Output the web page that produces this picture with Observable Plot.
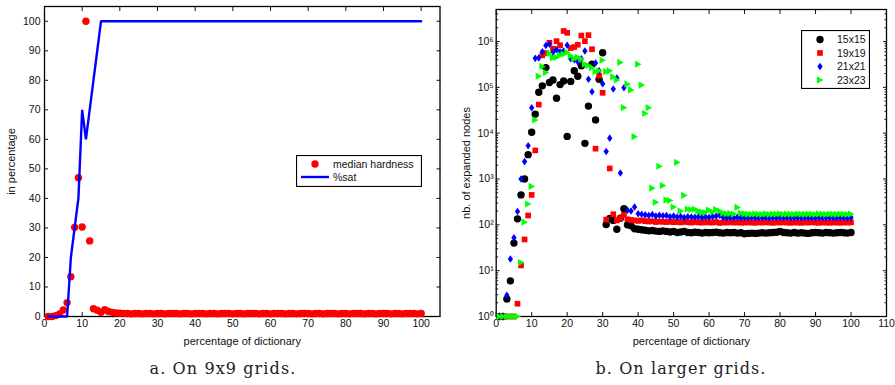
<!DOCTYPE html>
<html><head><meta charset="utf-8">
<script src="https://cdn.jsdelivr.net/npm/d3@7"></script>
<script src="https://cdn.jsdelivr.net/npm/@observablehq/plot@0.6"></script>
<style>
body{margin:0;background:#fff;}
#wrap{position:relative;width:895px;height:385px;overflow:hidden;font-family:"Liberation Sans",Arial,sans-serif;}
.panel{position:absolute;top:0;}
.cap{position:absolute;top:359px;font-family:"DejaVu Serif",serif;font-size:16px;letter-spacing:1.1px;color:#222;transform:translateX(-50%);white-space:nowrap;}
.leg{position:absolute;}
</style>
</head><body>
<div id="wrap"></div>
<script>
// ---------- data: panel a (9x9 grids) ----------
const pctA = d3.range(1, 101); // percentage of dictionary, 1..100
const hardness = [
  0, 0, 0.3, 0.9, 2.2, 4.7, 13.5, 30.2, 47, 30.3,
  100, 25.6, 2.6, 2.1, 1.4, 2.3, 1.7, 1.4, 1.2, 1.1,
  1.0, 1.0, 0.9, 1.0, 1.0, 0.9, 1.0, 1.0, 0.9, 1.0,
  1.0, 0.9, 1.0, 1.0, 1.0, 0.9, 1.0, 1.0, 0.9, 1.0,
  1.0, 1.0, 0.9, 1.0, 1.0, 0.9, 1.0, 1.0, 1.0, 0.9,
  1.0, 1.0, 0.9, 1.0, 1.0, 1.0, 0.9, 1.0, 1.0, 0.9,
  1.0, 1.0, 1.0, 0.9, 1.0, 1.0, 0.9, 1.0, 1.0, 1.0,
  0.9, 1.0, 1.0, 0.9, 1.0, 1.0, 1.0, 0.9, 1.0, 1.0,
  0.9, 1.0, 1.0, 1.0, 0.9, 1.0, 1.0, 0.9, 1.0, 1.0,
  1.0, 0.9, 1.0, 1.0, 0.9, 1.0, 1.0, 1.0, 0.9, 1.0
];
const satX = [1, 6, 7, 8, 9, 10, 11, 15, 100];
const satY = [0, 0, 20, 30, 40, 70, 60, 100, 100];
const xTicksA = [0,10,20,30,40,50,60,70,80,90,100];
const yTicksA = [0,10,20,30,40,50,60,70,80,90,100];

// ---------- data: panel b (larger grids) ----------
const pctB = d3.range(1, 101);
const n15 = [
  1, 1, 2.4, 6, 40, 135, 450, 1000, 3400, 10500,
  26000, 78000, 108000, 270000, 128000, 145000, 58000, 115000, 138000, 8500,
  135000, 230000, 175000, 295000, 6000, 39000, 320000, 19500, 150000, 570000,
  102, 138, 125, 80, 140, 225, 100, 95, 82, 80,
  78, 76, 74, 75, 73, 72, 74, 72, 70, 72,
  68, 70, 72, 68, 67, 69, 68, 66, 68, 67,
  68, 69, 67, 66, 68, 67, 68, 66, 67, 64,
  65, 66, 65, 66, 67, 66, 67, 68, 69, 72,
  68, 67, 66, 68, 66, 67, 66, 65, 67, 68,
  67, 66, 68, 67, 66, 67, 68, 67, 66, 68
];
const n19 = [
  1, 1, 1, 1, 1, 1.9, 13, 48, 160, 450,
  4200, 42000, 500000, 560000, 940000, 700000, 1020000, 830000, 1700000, 1550000,
  720000, 760000, 850000, 1350000, 1020000, 1380000, 680000, 4600, 180000, 76000,
  130, 1700, 170, 125, 140, 165, 132, 128, 125, 122,
  125, 120, 118, 120, 115, 118, 116, 115, 117, 114,
  115, 113, 116, 114, 112, 115, 113, 112, 114, 113,
  112, 115, 110, 113, 112, 114, 112, 113, 111, 112,
  113, 112, 111, 113, 112, 114, 112, 111, 113, 112,
  114, 112, 111, 113, 112, 111, 113, 112, 114, 112,
  111, 113, 112, 111, 113, 112, 111, 113, 112, 113
];
const n21 = [
  1, 1, 2.9, 18, 52, 195, 1000, 2400, 5300, 36000,
  430000, 440000, 600000, 820000, 880000, 580000, 660000, 600000, 620000, 830000,
  420000, 400000, 360000, 420000, 620000, 150000, 80000, 340000, 230000, 120000,
  4000, 7800, 92000, 160000, 1350, 98000, 208, 200, 245, 175,
  170, 165, 160, 168, 155, 162, 158, 160, 150, 155,
  148, 152, 145, 150, 148, 146, 150, 145, 148, 146,
  150, 155, 160, 145, 142, 145, 143, 146, 142, 144,
  143, 145, 142, 144, 143, 145, 142, 144, 143, 146,
  143, 145, 142, 144, 143, 142, 144, 143, 145, 142,
  144, 143, 142, 144, 143, 142, 144, 143, 142, 144
];
const n23 = [
  1, 1, 1, 1, 1, 1, 15, 115, 285, 690,
  19500, 175000, 285000, 210000, 550000, 440000, 450000, 510000, 530000, 580000,
  490000, 420000, 450000, 420000, 320000, 300000, 270000, 220000, 230000, 390000,
  220000, 230000, 170000, 145000, 350000, 36000, 118000, 88000, 8400, 320000,
  112000, 27000, 36000, 630, 310, 1900, 720, 350, 340, 244,
  2300, 200, 440, 220, 215, 220, 200, 190, 185, 210,
  190, 215, 200, 180, 175, 178, 172, 240, 180, 175,
  172, 170, 174, 171, 170, 173, 170, 172, 171, 174,
  170, 172, 171, 170, 173, 171, 170, 172, 171, 170,
  173, 171, 170, 172, 171, 170, 172, 171, 170, 172
];
const seriesNames = ["15x15", "19x19", "21x21", "23x23"];
const seriesColors = ["#000000", "#ff0000", "#0000ff", "#00ff00"];
const xTicksB = [0,10,20,30,40,50,60,70,80,90,100,110];
const yTicksB = [1, 10, 100, 1000, 10000, 100000, 1000000];

// ---------- symbols ----------
const sq = {draw(c, s){const a=Math.sqrt(s/Math.PI)*0.86; c.rect(-a,-a,2*a,2*a);}};
const dia = {draw(c, s){const a=Math.sqrt(s/Math.PI); c.moveTo(0,-a); c.lineTo(0.7*a,0); c.lineTo(0,a); c.lineTo(-0.7*a,0); c.closePath();}};
const triR = {draw(c, s){const a=Math.sqrt(s/Math.PI); c.moveTo(-0.85*a,-a); c.lineTo(0.95*a,0); c.lineTo(-0.85*a,a); c.closePath();}};
const symbols = ["circle", sq, dia, triR];
const radii = [3.7, 3.3, 3.8, 3.6];

const sup = ["⁰","¹","²","³","⁴","⁵","⁶","⁷","⁸","⁹"];
const minorB = [];
for (let k = 0; k <= 6; k++) for (let m = 2; m <= 9; m++) { const v = m * 10 ** k; if (v < 5e6) minorB.push(v); }

const st = {fontFamily: "'Liberation Sans', Arial, sans-serif", fontSize: "10.5px", color: "#111", background: "#fff", overflow: "visible"};
const wrap = document.getElementById("wrap");

// ---------- panel a ----------
const A = Plot.plot({
  width: 447, height: 350,
  marginLeft: 44, marginRight: 7.5, marginTop: 6, marginBottom: 34,
  style: st,
  x: {domain: [0, 105]},
  y: {domain: [0, 105]},
  marks: [
    Plot.frame({stroke: "#000", strokeWidth: 1.3}),
    Plot.axisX({anchor: "bottom", ticks: xTicksA, tickSize: -4, tickPadding: 7.5, label: null}),
    Plot.axisX({anchor: "bottom", ticks: [], fontSize: 11, label: "percentage of dictionary", labelAnchor: "center", labelOffset: 28, labelArrow: "none"}),
    Plot.axisX({anchor: "top", ticks: xTicksA, tickSize: -4, tickFormat: () => "", label: null}),
    Plot.axisY({anchor: "left", ticks: yTicksA, tickSize: -4, tickPadding: 8, label: null}),
    Plot.axisY({anchor: "left", ticks: [], fontSize: 11, label: "in percentage", labelAnchor: "center", labelOffset: 37, labelArrow: "none"}),
    Plot.axisY({anchor: "right", ticks: yTicksA, tickSize: -4, tickFormat: () => "", label: null}),
    Plot.dot(hardness, {x: pctA, y: hardness, r: 3.7, fill: "#ff0000", stroke: "none"}),
    Plot.line(satY, {x: satX, y: satY, stroke: "#0000ff", strokeWidth: 2.4, strokeLinejoin: "miter"})
  ]
});
A.classList.add("panel"); A.style.left = "0px";
wrap.appendChild(A);

// ---------- panel b ----------
const vals = [n15, n19, n21, n23];
const B = Plot.plot({
  width: 448, height: 350,
  marginLeft: 48.7, marginRight: 9, marginTop: 9, marginBottom: 34,
  style: st,
  x: {domain: [0, 110]},
  y: {type: "log", domain: [1, 5e6]},
  marks: [
    Plot.frame({stroke: "#000", strokeWidth: 1.3}),
    Plot.axisX({anchor: "bottom", ticks: xTicksB, tickSize: -4, tickPadding: 7.5, label: null}),
    Plot.axisX({anchor: "bottom", ticks: [], fontSize: 11, label: "percentage of dictionary", labelAnchor: "center", labelOffset: 28, labelArrow: "none"}),
    Plot.axisX({anchor: "top", ticks: xTicksB, tickSize: -4, tickFormat: () => "", label: null}),
    Plot.axisY({anchor: "left", ticks: yTicksB, tickSize: -4, tickPadding: 6.5, tickFormat: d => "10" + sup[Math.round(Math.log10(d))], label: null}),
    Plot.axisY({anchor: "left", ticks: [], fontSize: 11, label: "nb. of expanded nodes", labelAnchor: "center", labelOffset: 34, labelArrow: "none"}),
    Plot.axisY({anchor: "left", ticks: minorB, tickSize: -2.5, tickFormat: () => "", label: null}),
    Plot.axisY({anchor: "right", ticks: yTicksB, tickSize: -4, tickFormat: () => "", label: null}),
    Plot.axisY({anchor: "right", ticks: minorB, tickSize: -2.5, tickFormat: () => "", label: null}),
    ...vals.map((v, i) => Plot.dot(v, {x: pctB, y: v, r: radii[i], symbol: symbols[i], fill: seriesColors[i], stroke: "none"}))
  ]
});
B.classList.add("panel"); B.style.left = "447px";
wrap.appendChild(B);

// ---------- legends ----------
function legendBox(left, top, w, h) {
  const svg = d3.create("svg").attr("class", "leg").attr("width", w).attr("height", h)
    .style("left", left + "px").style("top", top + "px")
    .style("font-family", "'Liberation Sans', Arial, sans-serif").style("font-size", "10.5px");
  svg.append("rect").attr("x", 0.5).attr("y", 0.5).attr("width", w - 1).attr("height", h - 1)
    .attr("fill", "#fff").attr("stroke", "#000").attr("stroke-width", 1.2);
  wrap.appendChild(svg.node());
  return svg;
}
const la = legendBox(296, 155, 126, 32);
la.append("circle").attr("cx", 19).attr("cy", 9).attr("r", 3.7).attr("fill", "#ff0000");
la.append("text").attr("x", 37).attr("y", 9).attr("dy", "0.35em").attr("fill", "#111").text("median hardness");
la.append("line").attr("x1", 5).attr("x2", 33).attr("y1", 22).attr("y2", 22).attr("stroke", "#0000ff").attr("stroke-width", 2.4);
la.append("text").attr("x", 37).attr("y", 22).attr("dy", "0.35em").attr("fill", "#111").text("%sat");

const lb = legendBox(801, 30, 69, 59);
seriesNames.forEach((name, i) => {
  const cy = 9.5 + i * 13.5;
  lb.append("path").attr("transform", `translate(19,${cy})`)
    .attr("d", d3.symbol(symbols[i] === "circle" ? d3.symbolCircle : symbols[i], Math.PI * radii[i] ** 2)())
    .attr("fill", seriesColors[i]);
  lb.append("text").attr("x", 36).attr("y", cy).attr("dy", "0.35em").attr("fill", "#111").text(name);
});

// ---------- captions ----------
[["a. On 9x9 grids.", 223], ["b. On larger grids.", 681]].forEach(([t, cx]) => {
  const d = document.createElement("div");
  d.className = "cap"; d.style.left = cx + "px"; d.textContent = t;
  wrap.appendChild(d);
});
</script>
</body></html>
